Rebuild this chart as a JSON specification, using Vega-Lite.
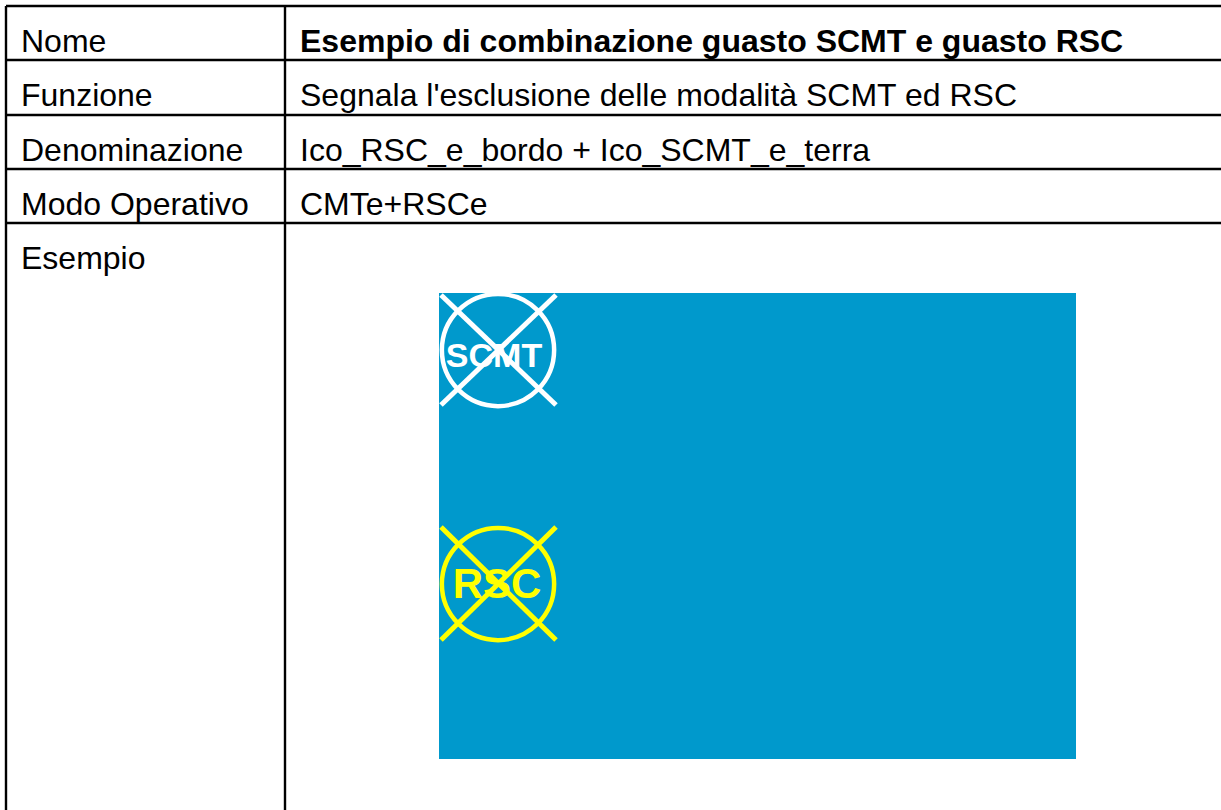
{
"$schema":"https://vega.github.io/schema/vega-lite/v6.json",
"width":1221,"height":810,"padding":0,"autosize":{"type":"none"},"background":"white",
"config":{"view":{"stroke":null},"text":{"font":"Liberation Sans","fontSize":32,"align":"left","baseline":"alphabetic","color":"#000000"}},
"datasets":{
"grid":[
{"x":6,"x2":1221,"y":6,"y2":6},{"x":6,"x2":1221,"y":60,"y2":60},{"x":6,"x2":1221,"y":115,"y2":115},{"x":6,"x2":1221,"y":169,"y2":169},{"x":6,"x2":1221,"y":223,"y2":223},
{"x":6,"x2":6,"y":6,"y2":810},{"x":285,"x2":285,"y":6,"y2":810}],
"labels":[{"x":21,"y":52,"t":"Nome"},{"x":21,"y":106,"t":"Funzione"},{"x":21,"y":161,"t":"Denominazione"},{"x":21,"y":215,"t":"Modo Operativo"},{"x":21,"y":269,"t":"Esempio"},
{"x":300,"y":106,"t":"Segnala l'esclusione delle modalità SCMT ed RSC"},{"x":300,"y":161,"t":"Ico_RSC_e_bordo + Ico_SCMT_e_terra"},{"x":300,"y":215,"t":"CMTe+RSCe"}],
"title":[{"x":300,"y":52,"t":"Esempio di combinazione guasto SCMT e guasto RSC"}],
"panel":[{"x":439,"x2":1076,"y":293,"y2":759}],
"whiteCross":[{"x":441,"x2":556,"y":295,"y2":405},{"x":556,"x2":441,"y":295,"y2":405}],
"yellowCross":[{"x":441,"x2":556,"y":527,"y2":640},{"x":556,"x2":441,"y":527,"y2":640}],
"whiteCircle":[{"x":498,"y":350}],
"yellowCircle":[{"x":498,"y":584}],
"whiteText":[{"x":494,"y":367,"t":"SCMT"}],
"yellowText":[{"x":497,"y":598,"t":"RSC"}]
},
"encoding":{
"x":{"field":"x","type":"quantitative","scale":{"domain":[0,1221],"nice":false,"zero":false},"axis":null},
"y":{"field":"y","type":"quantitative","scale":{"domain":[810,0],"nice":false,"zero":false},"axis":null}
},
"layer":[
{"data":{"name":"grid"},"mark":{"type":"rule","stroke":"#000000","strokeWidth":2.4},"encoding":{"x2":{"field":"x2"},"y2":{"field":"y2"}}},
{"data":{"name":"labels"},"mark":{"type":"text"},"encoding":{"text":{"field":"t"}}},
{"data":{"name":"title"},"mark":{"type":"text","fontWeight":"bold"},"encoding":{"text":{"field":"t"}}},
{"data":{"name":"panel"},"mark":{"type":"rect","fill":"#0099CC"},"encoding":{"x2":{"field":"x2"},"y2":{"field":"y2"}}},
{"data":{"name":"whiteText"},"mark":{"type":"text","align":"center","font":"Liberation Sans","fontWeight":"bold","fontSize":34,"color":"#FFFFFF"},"encoding":{"text":{"field":"t"}}},
{"data":{"name":"yellowText"},"mark":{"type":"text","align":"center","font":"Liberation Sans","fontWeight":"bold","fontSize":42,"color":"#FFFF00"},"encoding":{"text":{"field":"t"}}},
{"data":{"name":"whiteCircle"},"mark":{"type":"point","shape":"circle","filled":false,"stroke":"#FFFFFF","strokeWidth":4.5,"size":12600,"opacity":1}},
{"data":{"name":"yellowCircle"},"mark":{"type":"point","shape":"circle","filled":false,"stroke":"#FFFF00","strokeWidth":4.5,"size":12600,"opacity":1}},
{"data":{"name":"whiteCross"},"mark":{"type":"rule","stroke":"#FFFFFF","strokeWidth":5},"encoding":{"x2":{"field":"x2"},"y2":{"field":"y2"}}},
{"data":{"name":"yellowCross"},"mark":{"type":"rule","stroke":"#FFFF00","strokeWidth":5},"encoding":{"x2":{"field":"x2"},"y2":{"field":"y2"}}}
]
}
